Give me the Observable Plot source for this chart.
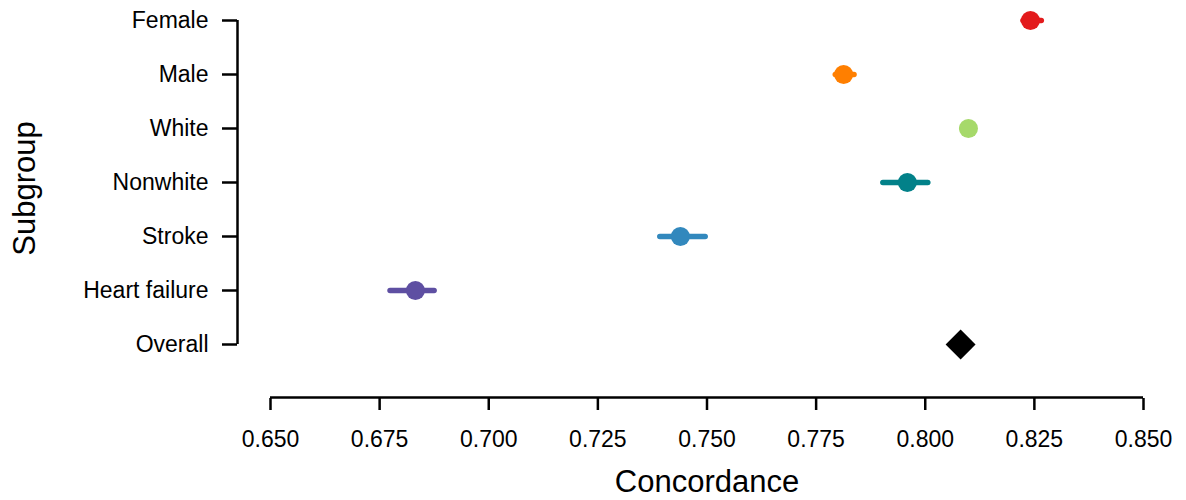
<!DOCTYPE html>
<html>
<head>
<meta charset="utf-8">
<script src="https://cdn.jsdelivr.net/npm/d3@7"></script>
<script src="https://cdn.jsdelivr.net/npm/@observablehq/plot@0.6"></script>
<style>
  html, body { margin: 0; padding: 0; background: #fff; }
  #chart { font-family: "Liberation Sans", Arial, Helvetica, sans-serif; }
</style>
</head>
<body>
<div id="chart"></div>
<script>
const subgroups = ["Female", "Male", "White", "Nonwhite", "Stroke", "Heart failure", "Overall"];
const estimates = [0.8241, 0.7813, 0.8099, 0.7959, 0.7439, 0.6832, 0.8081];
const lower     = [0.8225, 0.7795, 0.8085, 0.7904, 0.7393, 0.6775, 0.8081];
const upper     = [0.8267, 0.7838, 0.8112, 0.8007, 0.7497, 0.6876, 0.8081];
const colors    = ["#e31a1c", "#ff7f00", "#a6d96a", "#028189", "#3288bd", "#5e4fa2", "#000000"];
const xTicks    = [0.650, 0.675, 0.700, 0.725, 0.750, 0.775, 0.800, 0.825, 0.850];

const rows = subgroups.map((s, i) => ({subgroup: s, est: estimates[i], lo: lower[i], hi: upper[i], color: colors[i]}));
const groups = rows.filter(d => d.subgroup !== "Overall");
const overall = rows.filter(d => d.subgroup === "Overall");

const chart = Plot.plot({
  width: 1186,
  height: 500,
  marginLeft: 270,
  marginRight: 43,
  marginTop: 18,
  marginBottom: 155,
  style: {fontFamily: "Liberation Sans, Arial, Helvetica, sans-serif", fontSize: "23px", color: "#000", background: "#fff"},
  x: {domain: [0.65, 0.85]},
  y: {type: "point", domain: subgroups, padding: 0},
  marks: [
    Plot.axisX({ticks: xTicks, tickFormat: d3.format(".3f"), tickSize: 12, tickPadding: 20, dy: 53, strokeWidth: 2.5, label: null, fontSize: 23}),
    Plot.axisY({tickSize: 15, tickPadding: 14, dx: -33, strokeWidth: 2.5, label: null, fontSize: 23}),
    Plot.ruleY(["Overall"], {x1: 0.65, x2: 0.85, dy: 53, stroke: "#000", strokeWidth: 2.5}),
    Plot.ruleX([0.65], {y1: () => subgroups[0], y2: () => subgroups[subgroups.length - 1], dx: -33, stroke: "#000", strokeWidth: 2.5}),
    Plot.ruleY(groups, {y: "subgroup", x1: "lo", x2: "hi", stroke: "color", strokeWidth: 5.5, strokeLinecap: "round"}),
    Plot.dot(groups, {y: "subgroup", x: "est", fill: "color", r: 9.5, stroke: null}),
    Plot.dot(overall, {y: "subgroup", x: "est", fill: "#000", symbol: "diamond2", r: 13.5}),
    Plot.text(["Concordance"], {frameAnchor: "bottom", dy: 146, fontSize: 31, fill: "#000"}),
    Plot.text(["Subgroup"], {x: () => 0.65, y: () => "Nonwhite", dx: -245, dy: 6, rotate: -90, fontSize: 31, fill: "#000"})
  ]
});
document.getElementById("chart").append(chart);
</script>
</body>
</html>
